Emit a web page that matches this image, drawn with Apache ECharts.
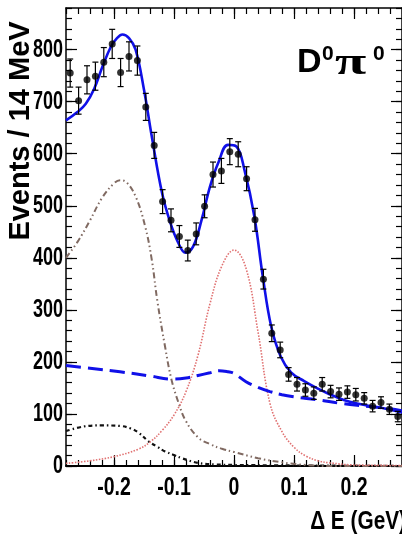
<!DOCTYPE html>
<html><head><meta charset="utf-8">
<script src="https://cdn.jsdelivr.net/npm/echarts@6/dist/echarts.min.js"></script>
<style>html,body{margin:0;padding:0;background:#fff}#c{width:402px;height:541px}</style>
</head><body><div id="c"></div>
<script>
// ---- data ----
const binCenters = [-0.273,-0.259,-0.245,-0.231,-0.217,-0.203,-0.189,-0.175,-0.161,-0.147,-0.133,-0.119,-0.105,-0.091,-0.077,-0.063,-0.049,-0.035,-0.021,-0.007,0.007,0.021,0.035,0.049,0.063,0.077,0.091,0.105,0.119,0.133,0.147,0.161,0.175,0.189,0.203,0.217,0.231,0.245,0.259,0.273];
const events = [755,702,742,749,776,811,756,787,779,690,616,508,472,441,414,446,499,560,567,604,599,552,473,359,255,223,176,157,146,140,157,143,138,142,137,130,115,122,109,95];
const errors = [27,26,27,27,28,28,27,28,28,26,25,23,22,21,20,21,22,24,24,25,24,23,22,19,16,15,13,13,12,12,13,12,12,12,12,11,11,11,10,10];

const totalE = [-0.28,-0.261,-0.247,-0.233,-0.219,-0.205,-0.195,-0.186,-0.175,-0.164,-0.15,-0.137,-0.12,-0.106,-0.093,-0.081,-0.068,-0.054,-0.04,-0.026,-0.01,0.004,0.018,0.034,0.048,0.062,0.078,0.095,0.117,0.139,0.161,0.183,0.205,0.227,0.249,0.28];
const totalV = [664,680,696,725,768,806,822,829,822,800,723,633,525,467,429,410,422,473,537,583,617,614,566,479,364,268,210,180,163,149,137,127,120,115,111,103];

const combE = [-0.28,-0.24,-0.19,-0.14,-0.104,-0.08,-0.06,-0.04,-0.025,-0.01,0,0.02,0.04,0.06,0.08,0.10,0.14,0.18,0.22,0.26,0.28];
const combV = [193,188,181,173,167,169,174,179,183,181,178,162,151,143,137,133,127,120,115,110,106];

const sigE = [-0.28,-0.24,-0.20,-0.16,-0.14,-0.12,-0.10,-0.08,-0.06,-0.04,-0.02,0,0.02,0.04,0.06,0.08,0.10,0.12,0.14,0.16,0.20,0.28];
const sigV = [5,10,18,32,46,68,98,143,213,312,385,415,380,258,120,66,36,19,10,6,2,1];

const peakE = [-0.28,-0.26,-0.24,-0.22,-0.20,-0.19,-0.18,-0.164,-0.148,-0.137,-0.128,-0.115,-0.104,-0.092,-0.081,-0.06,-0.04,-0.02,0,0.04,0.08,0.12,0.16,0.28];
const peakV = [400,432,472,515,543,549,546,518,460,396,319,230,165,120,88,55,42,33,27,15,7,2,0,0];

const otherE = [-0.28,-0.25,-0.22,-0.19,-0.172,-0.159,-0.142,-0.128,-0.115,-0.1,-0.087,-0.06,-0.03,0,0.1,0.28];
const otherV = [67,76,78,77,72,64,47,37,28,21,15,6,3,2,1,0];

const xMajor = [-0.2,-0.1,0,0.1,0.2];
const xTickLabels = ['-0.2','-0.1','0','0.1','0.2'];
const yMajor = [0,100,200,300,400,500,600,700,800];
const yTickLabels = ['0','100','200','300','400','500','600','700','800'];

// ---- chart ----
const zip = (a,b) => a.map((v,i)=>[v,b[i]]);
const chart = echarts.init(document.getElementById('c'), null, {renderer:'canvas'});
const sans = '"Liberation Sans", Arial, sans-serif';
const black = '#000';
const X0=-0.28, X1=0.28, Y0=0, Y1=880;
function xa(pos, major){
  return {type:'value', position:pos, min:X0, max:X1,
    interval: major?undefined:0.02,
    axisLine:{show:major, onZero:false, lineStyle:{color:black, width: pos==='bottom'?2:1.5}},
    axisTick:{show:true, inside:true, length: major?11:6, customValues: major?xMajor:undefined, lineStyle:{color:black, width:1.2}},
    axisLabel:{show:false},
    splitLine:{show:false}};
}
function ya(pos, major){
  return {type:'value', position:pos, min:Y0, max:Y1,
    interval: major?undefined:20,
    axisLine:{show:major, onZero:false, lineStyle:{color:black, width:1.5}},
    axisTick:{show:true, inside:true, length: major?11:6, customValues: major?yMajor:undefined, lineStyle:{color:black, width:1.2}},
    axisLabel:{show:false},
    splitLine:{show:false}};
}
const option = {
  backgroundColor:'#fff',
  animation:false,
  grid:{left:66, top:8, width:339, height:458, containLabel:false},
  xAxis:[xa('bottom',true), xa('bottom',false), xa('top',true), xa('top',false)],
  yAxis:[ya('left',true), ya('left',false), ya('right',true), ya('right',false)],
  series:[
    {type:'line', data:zip(otherE,otherV), smooth:0.4, showSymbol:false, z:2,
     lineStyle:{color:'#111', width:2.2, type:[4,3,1.5,3]}},
    {type:'line', data:zip(peakE,peakV), smooth:0.4, showSymbol:false, z:2,
     lineStyle:{color:'#806a62', width:2, type:[6,3,1.5,3,1.5,3]}},
    {type:'line', data:zip(sigE,sigV), smooth:0.4, showSymbol:false, z:2,
     lineStyle:{color:'#e07070', width:1.6, type:[1.5,1.5]}},
    {type:'line', data:zip(combE,combV), smooth:0.4, showSymbol:false, z:3,
     lineStyle:{color:'#1010e8', width:3, type:[15,7]}},
    {type:'line', data:zip(totalE,totalV), smooth:0.4, showSymbol:false, z:4,
     lineStyle:{color:'#1010e8', width:2.6}},
    {type:'custom', z:5,
     data: binCenters.map((x,i)=>[x, events[i]-errors[i], events[i]+errors[i]]),
     encode:{x:0, y:[1,2]},
     renderItem:function(params, api){
       const x=api.value(0);
       const p1=api.coord([x,api.value(1)]), p2=api.coord([x,api.value(2)]);
       const w=3, st={stroke:'#000', lineWidth:1.2};
       return {type:'group', children:[
         {type:'line', shape:{x1:p1[0],y1:p1[1],x2:p2[0],y2:p2[1]}, style:st},
         {type:'line', shape:{x1:p1[0]-w,y1:p1[1],x2:p1[0]+w,y2:p1[1]}, style:st},
         {type:'line', shape:{x1:p2[0]-w,y1:p2[1],x2:p2[0]+w,y2:p2[1]}, style:st}
       ]};
     }},
    {type:'scatter', data:zip(binCenters,events), symbol:'circle', symbolSize:7, z:6,
     itemStyle:{color:'#000'}}
  ]
};
chart.setOption(option);

// tick labels (condensed bold), placed through the axes' own scales
const g = [];
yMajor.forEach((v,i)=>{
  const py = chart.convertToPixel({yAxisIndex:0}, v);
  g.push({type:'text', x:63, y:py, scaleX:0.72, z:10,
    style:{text:yTickLabels[i], font:'bold 25px '+sans, fill:'#000', textAlign:'right', textVerticalAlign:'middle'}});
});
xMajor.forEach((v,i)=>{
  const px = chart.convertToPixel({xAxisIndex:0}, v);
  g.push({type:'text', x:px, y:488, scaleX:0.78, z:10,
    style:{text:xTickLabels[i], font:'bold 25px '+sans, fill:'#000', textAlign:'center', textVerticalAlign:'middle'}});
});
g.push(
  {type:'text', x:21, y:131, rotation:Math.PI/2, z:10,
   style:{text:'Events / 14 MeV', font:'bold 29px '+sans, fill:'#000', textAlign:'center', textVerticalAlign:'middle'}},
  {type:'text', x:406, y:522, scaleX:0.8, z:10,
   style:{text:'\u0394 E (GeV)', font:'bold 26px '+sans, fill:'#000', textAlign:'right', textVerticalAlign:'middle'}},
  {type:'text', x:297, y:80, z:10,
   style:{text:'D', font:'bold 34px '+sans, fill:'#000', textAlign:'left', textVerticalAlign:'bottom'}},
  {type:'text', x:322, y:44, z:10,
   style:{text:'0', font:'bold 21px '+sans, fill:'#000', textAlign:'left', textVerticalAlign:'top'}},
  {type:'text', x:335, y:83, scaleX:1.5, z:10,
   style:{text:'\u03c0', font:'bold 38px "Liberation Serif", serif', fill:'#000', textAlign:'left', textVerticalAlign:'bottom'}},
  {type:'text', x:373, y:44, z:10,
   style:{text:'0', font:'bold 21px '+sans, fill:'#000', textAlign:'left', textVerticalAlign:'top'}}
);
chart.setOption({graphic:g});
</script>
</body></html>
